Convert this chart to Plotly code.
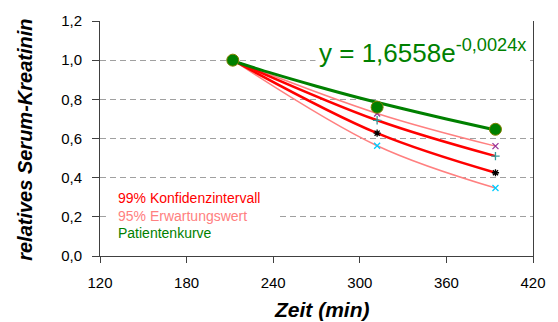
import plotly.graph_objects as go

# Data
time_min = [212, 312, 394]
patient = [1.0, 0.76, 0.647]

trend_x = [212, 240, 270, 300, 330, 360, 394]
trend_y = [0.996, 0.931, 0.867, 0.807, 0.752, 0.700, 0.643]

ci99_upper = [1.0, 0.693, 0.51]
ci99_lower = [1.0, 0.627, 0.425]
ew95_upper = [1.0, 0.728, 0.561]
ew95_lower = [1.0, 0.563, 0.347]

x_ticks = [120, 180, 240, 300, 360, 420]
y_ticks = [0.0, 0.2, 0.4, 0.6, 0.8, 1.0, 1.2]

legend_labels = ["99% Konfidenzintervall", "95% Erwartungswert", "Patientenkurve"]
equation = "y = 1,6558e<sup>-0,0024x</sup>"
x_title = "<b><i>Zeit (min)</i></b>"
y_title = "<b><i>relatives Serum-Kreatinin</i></b>"

RED = "#FF0000"
PINK = "#FF8080"
GREEN = "#008000"
FONT = "Liberation Sans, Arial, sans-serif"

fig = go.Figure()

def curve(y, color, width, symbol, mcolor):
    fig.add_trace(go.Scatter(
        x=time_min, y=y, mode="lines+markers",
        line=dict(color=color, width=width, shape="spline"),
        marker=dict(symbol=symbol, size=6, color=mcolor,
                    line=dict(color=mcolor, width=1.3)),
        showlegend=False, hoverinfo="skip"))

curve(ew95_upper, PINK, 1.5, "x-thin", "#993399")
curve(ew95_lower, PINK, 1.5, "x-thin", "#00CCFF")
curve(ci99_upper, RED, 2.5, "cross-thin", "#339999")
curve(ci99_lower, RED, 2.5, "asterisk", "#000000")

fig.add_trace(go.Scatter(
    x=trend_x, y=trend_y, mode="lines",
    line=dict(color=GREEN, width=3, shape="spline"),
    showlegend=False, hoverinfo="skip"))

fig.add_trace(go.Scatter(
    x=time_min, y=patient, mode="markers",
    marker=dict(symbol="circle", size=12, color=GREEN,
                line=dict(color="#808000", width=1)),
    showlegend=False, hoverinfo="skip"))

# white box behind the text legend
fig.add_shape(type="rect", xref="paper", yref="paper",
              x0=(106 - 100) / 435, x1=(278 - 100) / 435,
              y0=(256 - 244) / 240, y1=(256 - 186) / 240,
              fillcolor="white", line=dict(width=0), layer="above")

legend_colors = [RED, PINK, GREEN]
legend_y = [197, 215, 233]
for lab, col, py in zip(legend_labels, legend_colors, legend_y):
    fig.add_annotation(
        text=lab, xref="paper", yref="paper",
        x=(116 - 100) / 435, y=(256 - py) / 240,
        xanchor="left", yanchor="middle", showarrow=False,
        font=dict(family=FONT, size=14, color=col))

fig.add_annotation(
    text=equation, xref="paper", yref="paper",
    x=(316 - 100) / 435, y=(256 - 47) / 240,
    xanchor="left", yanchor="middle", showarrow=False,
    bgcolor="white", borderpad=3,
    font=dict(family=FONT, size=26, color=GREEN))

# axis titles
fig.add_annotation(
    text=x_title, xref="paper", yref="paper",
    x=(323 - 100) / 435, y=(256 - 311) / 240,
    xanchor="center", yanchor="middle", showarrow=False,
    font=dict(family=FONT, size=21, color="black"))
fig.add_annotation(
    text=y_title, xref="paper", yref="paper", textangle=-90,
    x=(25 - 100) / 435, y=(256 - 137) / 240,
    xanchor="center", yanchor="middle", showarrow=False,
    font=dict(family=FONT, size=20, color="black"))

fig.update_layout(
    width=558, height=322,
    margin=dict(l=100, r=23, t=16, b=66),
    paper_bgcolor="white", plot_bgcolor="white",
    separators=",.",
    font=dict(family=FONT, size=15, color="black"),
    xaxis=dict(
        range=[120, 420], tickvals=x_ticks,
        ticktext=[str(v) for v in x_ticks],
        showgrid=False, zeroline=False,
        showline=True, linecolor="#404040", linewidth=1,
        ticks="outside", ticklen=6, tickcolor="#404040",
        ticklabelstandoff=7,
    ),
    yaxis=dict(
        range=[0, 1.2], tickvals=y_ticks, tickformat=".1f",
        showgrid=True, gridcolor="#A0A0A0", gridwidth=1, griddash="6px,4px",
        zeroline=False,
        showline=True, mirror=True, linecolor="#404040", linewidth=1,
        ticks="outside", ticklen=7, tickcolor="#404040",
        ticklabelstandoff=7,
    ),
)

fig.write_html("out.html", config={"displayModeBar": False},
               post_script="document.body.style.margin='0';document.body.style.overflow='hidden';")
